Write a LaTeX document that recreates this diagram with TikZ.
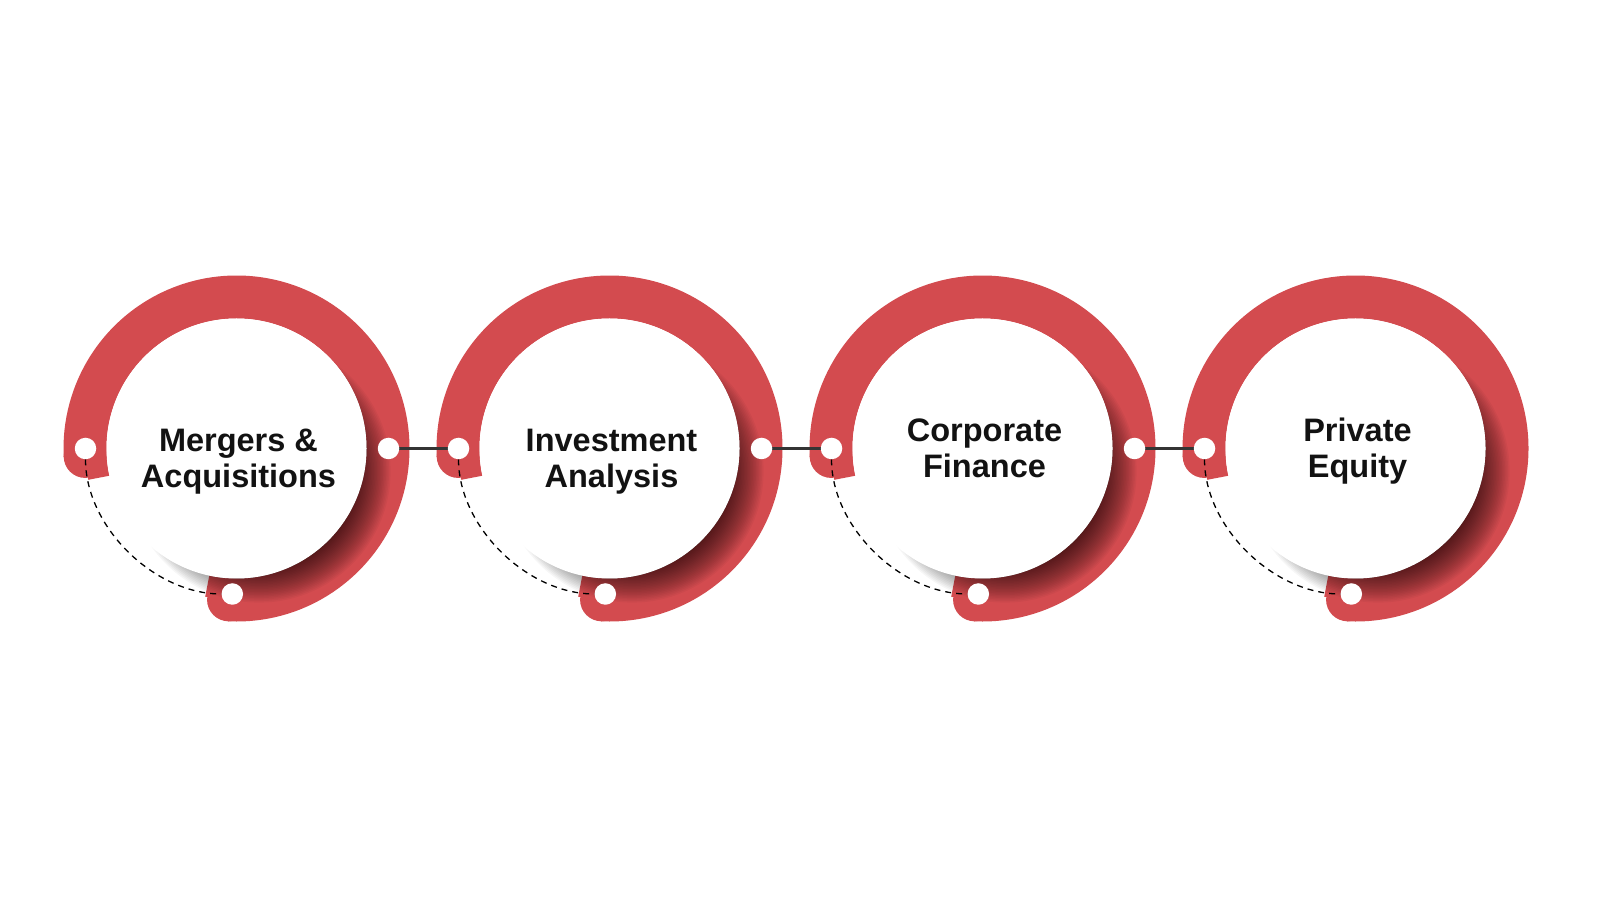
\documentclass[tikz,border=0pt]{standalone}
\usepackage{fontspec}
\setmainfont{Liberation Sans}
\definecolor{ringred}{RGB}{211,75,79}
\definecolor{linkgrey}{RGB}{52,52,52}
\pgfdeclarelayer{front}
\pgfsetlayers{main,front}
\tikzset{
  band/.style={draw=ringred, line width=43pt},
  bandcap/.style={fill=ringred},
  disc/.style={circle, fill=white, minimum size=260pt, inner sep=0pt},
  dot/.style={circle, fill=white, minimum size=21.5pt, inner sep=0pt},
  title/.style={align=center, font=\fontsize{32.5}{36}\selectfont\bfseries, text=black!93},
  link/.style={draw=linkgrey, line width=3.5pt},
  trail/.style={draw=black, line width=1.3pt, dash pattern=on 6pt off 5pt},
}
\begin{document}
\begin{tikzpicture}[x=1pt,y=1pt]
\fill[white] (0,0) rectangle (1600,900);
\useasboundingbox (0,0) rectangle (1600,900);

% Set the ring dimensions
\def\rmid{151.5} % middle of the red band
\def\ringband#1{%
  \draw[band] ([shift={(-93:\rmid)}]#1) arc[start angle=-93, end angle=183, radius=\rmid];
  \fill[bandcap] ([shift={(-93:\rmid)}]#1) circle (21.5);
  \fill[bandcap] ([shift={(183:\rmid)}]#1) circle (21.5);
  \draw[band, line width=21.5pt] ([shift={(-102:140.75)}]#1) arc[start angle=-102, end angle=-93, radius=140.75];
  \draw[band, line width=21.5pt] ([shift={(183:140.75)}]#1) arc[start angle=183, end angle=192, radius=140.75];}
\def\discshadow#1{%
  \foreach \k in {0,...,27} {\fill[black, opacity=0.034, shift={(#1)}] (22.6,-22.6) circle (91+1.5*\k);}}

% Centres of the four rings
\coordinate (c1) at (236.5,451.5);
\coordinate (c2) at (609.5,451.5);
\coordinate (c3) at (982.5,451.5);
\coordinate (c4) at (1355.5,451.5);

% Red bands, shadows and white discs
\ringband{c1}
\ringband{c2}
\ringband{c3}
\ringband{c4}
\discshadow{c1}
\discshadow{c2}
\discshadow{c3}
\discshadow{c4}
\node[disc] (d1) at (c1) {};
\node[disc] (d2) at (c2) {};
\node[disc] (d3) at (c3) {};
\node[disc] (d4) at (c4) {};

% Titles
\node[title] (t1) at ([shift={(2,-12.75)}]c1) {Mergers \&\\Acquisitions};
\node[title] (t2) at ([shift={(2,-12.95)}]c2) {Investment\\Analysis};
\node[title] (t3) at ([shift={(2,0.45)}]c3) {Corporate\\Finance};
\node[title] (t4) at ([shift={(2,-2.95)}]c4) {Private\\Equity};

% White dots on the bands
\begin{pgfonlayer}{front}
\node[dot] (l1) at ([shift={(180:151)}]c1) {};
\node[dot] (r1) at ([shift={(0:152)}]c1) {};
\node[dot] (b1) at ([shift={(-4.2,-145.5)}]c1) {};
\node[dot] (l2) at ([shift={(180:151)}]c2) {};
\node[dot] (r2) at ([shift={(0:152)}]c2) {};
\node[dot] (b2) at ([shift={(-4.2,-145.5)}]c2) {};
\node[dot] (l3) at ([shift={(180:151)}]c3) {};
\node[dot] (r3) at ([shift={(0:152)}]c3) {};
\node[dot] (b3) at ([shift={(-4.2,-145.5)}]c3) {};
\node[dot] (l4) at ([shift={(180:151)}]c4) {};
\node[dot] (b4) at ([shift={(-4.2,-145.5)}]c4) {};
\end{pgfonlayer}

% Links between the rings
\draw[link] (r1) -- (l2);
\draw[link] (r2) -- (l3);
\draw[link] (r3) -- (l4);

% Dashed trails from left dot to bottom dot
\draw[trail] (l1) to[out=-90, in=180, looseness=0.9] (b1);
\draw[trail] (l2) to[out=-90, in=180, looseness=0.9] (b2);
\draw[trail] (l3) to[out=-90, in=180, looseness=0.9] (b3);
\draw[trail] (l4) to[out=-90, in=180, looseness=0.9] (b4);
\end{tikzpicture}
\end{document}
